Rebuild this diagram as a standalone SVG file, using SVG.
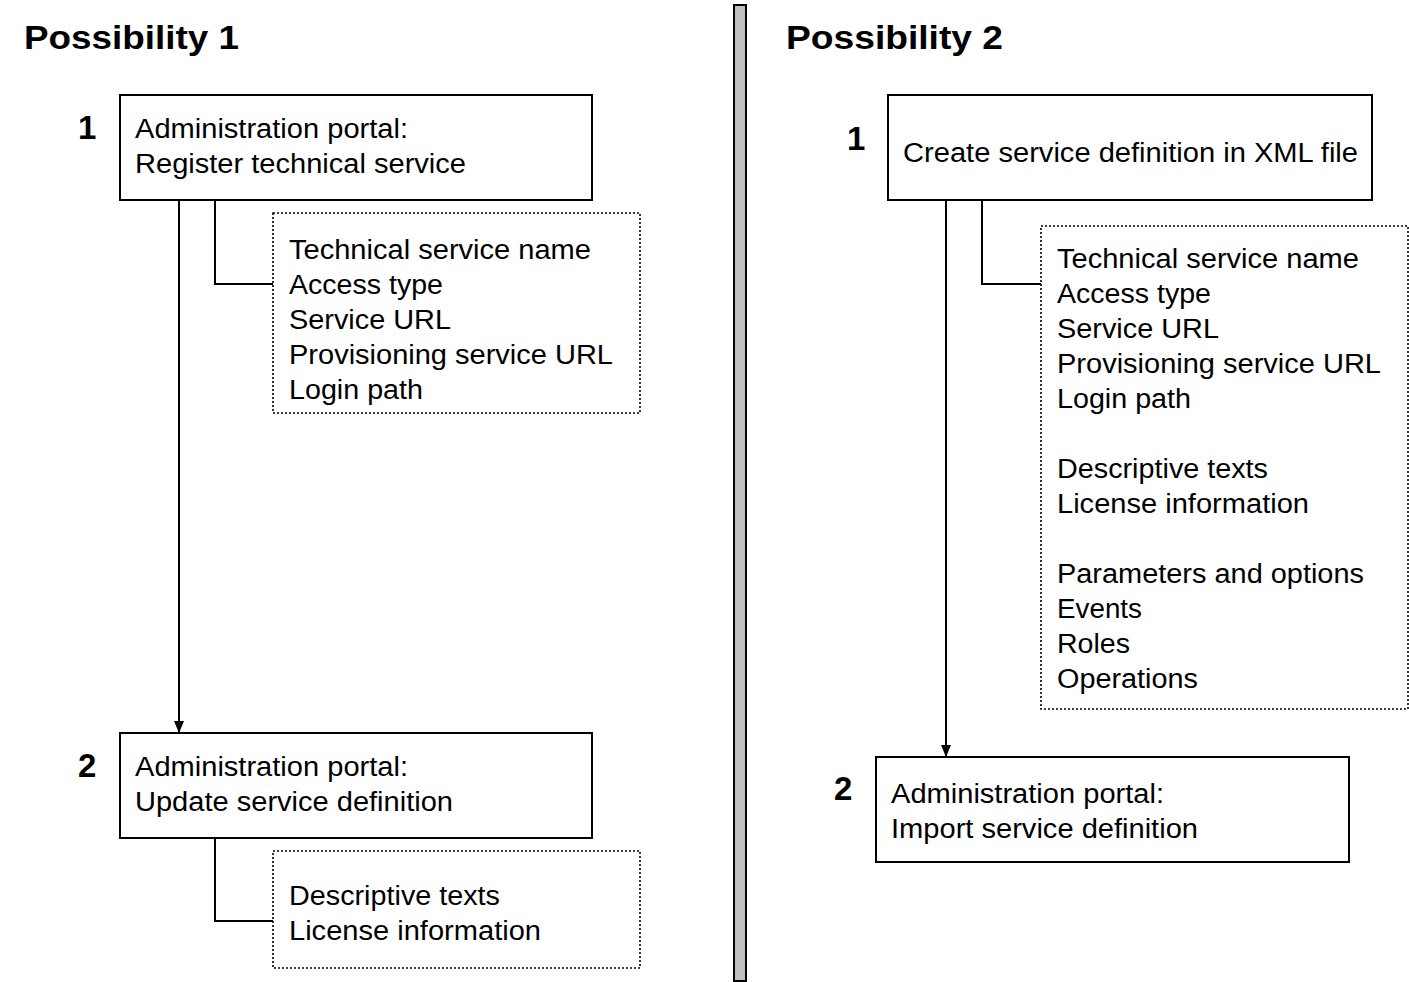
<svg xmlns="http://www.w3.org/2000/svg" width="1409" height="982" viewBox="0 0 1409 982">
<defs>
<style>
text{font-family:"Liberation Sans",Arial,sans-serif;fill:#000}
.t{font-size:27px}
.b{font-size:33px;font-weight:bold}
.box{fill:#fff;stroke:#000;stroke-width:2}
.dot{fill:#fff;stroke:#000;stroke-width:1.6;stroke-dasharray:2 2}
.ln{fill:none;stroke:#000;stroke-width:2}
</style>
<marker id="arr" viewBox="0 0 12 12" refX="12" refY="6" markerWidth="12" markerHeight="12" markerUnits="userSpaceOnUse" orient="auto">
<path d="M0,1 L12,6 L0,11 z" fill="#000"/>
</marker>
</defs>
<rect width="1409" height="982" fill="#fff"/>
<g id="divider"><rect x="734" y="5" width="12" height="976" fill="#c0c0c0" stroke="#000" stroke-width="2"/></g>
<g id="titles">
<text class="b" x="24" y="49" textLength="215" lengthAdjust="spacingAndGlyphs">Possibility 1</text>
<text class="b" x="786" y="49" textLength="217" lengthAdjust="spacingAndGlyphs">Possibility 2</text>
</g>
<g id="connectors">
<line class="ln" x1="179" y1="200" x2="179" y2="733" marker-end="url(#arr)"/>
<polyline class="ln" points="215,200 215,284 273,284"/>
<polyline class="ln" points="215,838 215,921 273,921"/>
<line class="ln" x1="946" y1="200" x2="946" y2="757" marker-end="url(#arr)"/>
<polyline class="ln" points="982,200 982,284 1041,284"/>
</g>
<g id="p1-step1">
<text class="b" x="78" y="139">1</text>
<rect class="box" x="120" y="95" width="472" height="105"/>
<text class="t" x="135" y="138" textLength="273" lengthAdjust="spacingAndGlyphs">Administration portal:</text>
<text class="t" x="135" y="173" textLength="331" lengthAdjust="spacingAndGlyphs">Register technical service</text>
</g>
<g id="p1-details1">
<rect class="dot" x="273" y="213" width="367" height="200"/>
<text class="t" x="289" y="259" textLength="302" lengthAdjust="spacingAndGlyphs">Technical service name</text>
<text class="t" x="289" y="294" textLength="154" lengthAdjust="spacingAndGlyphs">Access type</text>
<text class="t" x="289" y="329" textLength="162" lengthAdjust="spacingAndGlyphs">Service URL</text>
<text class="t" x="289" y="364" textLength="324" lengthAdjust="spacingAndGlyphs">Provisioning service URL</text>
<text class="t" x="289" y="399" textLength="134" lengthAdjust="spacingAndGlyphs">Login path</text>
</g>
<g id="p1-step2">
<text class="b" x="78" y="777">2</text>
<rect class="box" x="120" y="733" width="472" height="105"/>
<text class="t" x="135" y="776" textLength="273" lengthAdjust="spacingAndGlyphs">Administration portal:</text>
<text class="t" x="135" y="811" textLength="318" lengthAdjust="spacingAndGlyphs">Update service definition</text>
</g>
<g id="p1-details2">
<rect class="dot" x="273" y="851" width="367" height="117"/>
<text class="t" x="289" y="905" textLength="211" lengthAdjust="spacingAndGlyphs">Descriptive texts</text>
<text class="t" x="289" y="940" textLength="252" lengthAdjust="spacingAndGlyphs">License information</text>
</g>
<g id="p2-step1">
<text class="b" x="847" y="150">1</text>
<rect class="box" x="888" y="95" width="484" height="105"/>
<text class="t" x="903" y="162" textLength="455" lengthAdjust="spacingAndGlyphs">Create service definition in XML file</text>
</g>
<g id="p2-details">
<rect class="dot" x="1041" y="226" width="367" height="483"/>
<text class="t" x="1057" y="268" textLength="302" lengthAdjust="spacingAndGlyphs">Technical service name</text>
<text class="t" x="1057" y="303" textLength="154" lengthAdjust="spacingAndGlyphs">Access type</text>
<text class="t" x="1057" y="338" textLength="162" lengthAdjust="spacingAndGlyphs">Service URL</text>
<text class="t" x="1057" y="373" textLength="324" lengthAdjust="spacingAndGlyphs">Provisioning service URL</text>
<text class="t" x="1057" y="408" textLength="134" lengthAdjust="spacingAndGlyphs">Login path</text>
<text class="t" x="1057" y="478" textLength="211" lengthAdjust="spacingAndGlyphs">Descriptive texts</text>
<text class="t" x="1057" y="513" textLength="252" lengthAdjust="spacingAndGlyphs">License information</text>
<text class="t" x="1057" y="583" textLength="307" lengthAdjust="spacingAndGlyphs">Parameters and options</text>
<text class="t" x="1057" y="618" textLength="85" lengthAdjust="spacingAndGlyphs">Events</text>
<text class="t" x="1057" y="653" textLength="73" lengthAdjust="spacingAndGlyphs">Roles</text>
<text class="t" x="1057" y="688" textLength="141" lengthAdjust="spacingAndGlyphs">Operations</text>
</g>
<g id="p2-step2">
<text class="b" x="834" y="800">2</text>
<rect class="box" x="876" y="757" width="473" height="105"/>
<text class="t" x="891" y="803" textLength="273" lengthAdjust="spacingAndGlyphs">Administration portal:</text>
<text class="t" x="891" y="838" textLength="307" lengthAdjust="spacingAndGlyphs">Import service definition</text>
</g>
</svg>
